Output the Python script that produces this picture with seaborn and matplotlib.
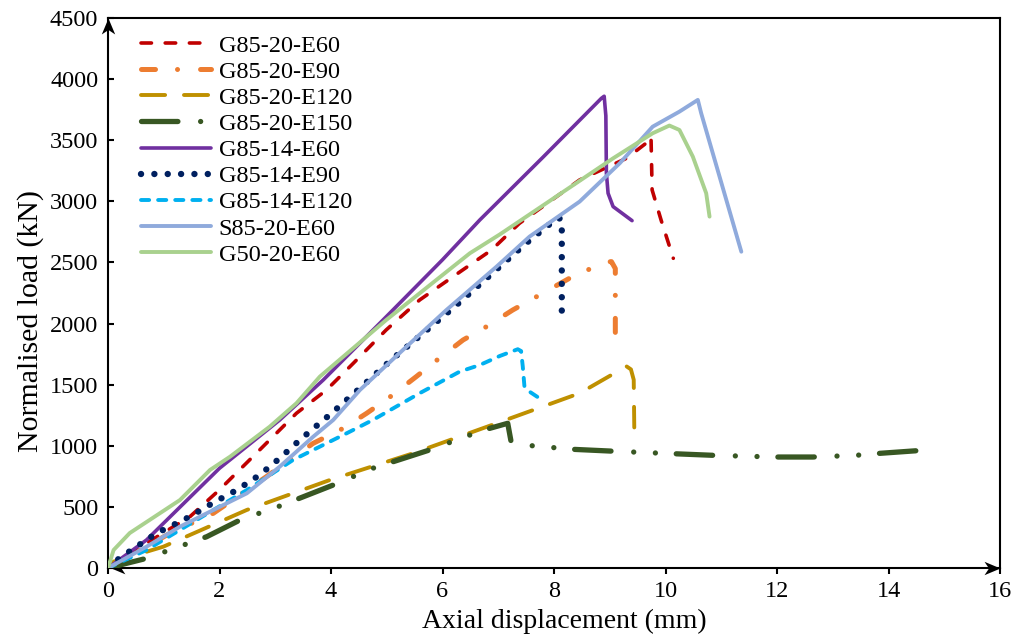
import matplotlib
matplotlib.use("Agg")
import matplotlib.pyplot as plt
import pandas as pd
import seaborn as sns

# ---------------- data ----------------
labels = ["G85-20-E60", "G85-20-E90", "G85-20-E120", "G85-20-E150",
          "G85-14-E60", "G85-14-E90", "G85-14-E120", "S85-20-E60", "G50-20-E60"]

x_g85_20_e60 = [0, 0.21, 1.0, 1.47, 2.0, 2.72, 3.38, 3.92, 4.4, 4.99, 5.59, 6.19, 6.88, 7.38, 8.46, 9.3, 9.65, 9.74, 9.76, 9.92, 10.14]
y_g85_20_e60 = [0, 65, 290, 420, 640, 966, 1266, 1457, 1675, 1948, 2193, 2384, 2602, 2820, 3175, 3352, 3475, 3530, 3093, 2848, 2534]

x_g85_20_e90 = [0, 0.21, 1.11, 1.89, 2.84, 3.68, 4.22, 4.64, 5.08, 5.53, 5.92, 6.37, 6.79, 7.26, 8.28, 8.9, 9.03, 9.1, 9.1]
y_g85_20_e90 = [0, 52, 284, 448, 747, 1020, 1143, 1266, 1407, 1566, 1708, 1866, 1975, 2111, 2371, 2500, 2507, 2450, 1750]

x_g85_20_e120 = [0, 0.1, 0.99, 2.49, 3.98, 5.47, 6.97, 8.46, 9.3, 9.38, 9.43, 9.44]
y_g85_20_e120 = [0, 52, 174, 475, 720, 938, 1184, 1430, 1650, 1625, 1540, 1150]

x_g85_20_e150 = [0, 0.69, 1.77, 2.37, 3.08, 4.04, 4.75, 5.77, 6.49, 6.85, 7.17, 7.23, 7.59, 8.34, 9.0, 9.83, 10.85, 11.98, 12.64, 13.42, 13.84, 14.52]
y_g85_20_e150 = [0, 79, 256, 393, 507, 679, 816, 966, 1088, 1143, 1184, 1034, 1001, 971, 957, 941, 922, 908, 908, 922, 938, 960]

x_g85_14_e60 = [0, 0.69, 2.0, 3.08, 3.86, 5.0, 6.0, 6.67, 7.8, 8.85, 8.9, 8.93, 8.94, 8.97, 9.06, 9.4]
y_g85_14_e60 = [0, 229, 816, 1211, 1538, 2060, 2522, 2848, 3360, 3843, 3860, 3700, 3230, 3066, 2957, 2842]

x_g85_14_e90 = [0, 0.21, 0.87, 1.47, 1.88, 2.31, 2.72, 3.08, 3.44, 3.8, 4.01, 4.55, 5.08, 5.65, 6.22, 6.76, 7.5, 8.07, 8.14, 8.14]
y_g85_14_e90 = [0, 82, 284, 420, 532, 638, 761, 898, 1047, 1186, 1266, 1484, 1702, 1920, 2139, 2357, 2657, 2867, 2850, 2016]

x_g85_14_e120 = [0, 0.69, 1.59, 2.49, 3.32, 4.28, 4.75, 5.59, 6.31, 6.67, 7.03, 7.35, 7.41, 7.44, 7.47, 7.56, 7.83]
y_g85_14_e120 = [0, 147, 393, 638, 884, 1102, 1211, 1430, 1607, 1661, 1735, 1790, 1775, 1648, 1484, 1443, 1361]

x_s85_20_e60 = [0, 0.69, 1.29, 2.01, 2.49, 3.08, 3.68, 4.04, 4.52, 5.29, 6.07, 6.97, 7.56, 8.46, 9.18, 9.77, 10.25, 10.58, 10.64, 11.36]
y_s85_20_e60 = [0, 174, 338, 502, 611, 829, 1074, 1211, 1457, 1784, 2111, 2466, 2711, 2998, 3312, 3611, 3734, 3830, 3721, 2588]

x_g50_20_e60 = [0, 0.1, 0.39, 1.29, 1.83, 2.19, 2.9, 3.38, 3.8, 4.99, 5.89, 6.49, 7.03, 7.86, 9.06, 9.77, 10.07, 10.25, 10.49, 10.73, 10.79]
y_g50_20_e60 = [0, 147, 286, 556, 802, 911, 1156, 1348, 1566, 2029, 2357, 2575, 2730, 2984, 3352, 3557, 3620, 3584, 3366, 3066, 2875]

x_ticks = [0, 2, 4, 6, 8, 10, 12, 14, 16]
y_ticks = [0, 500, 1000, 1500, 2000, 2500, 3000, 3500, 4000, 4500]

xs = [x_g85_20_e60, x_g85_20_e90, x_g85_20_e120, x_g85_20_e150, x_g85_14_e60,
      x_g85_14_e90, x_g85_14_e120, x_s85_20_e60, x_g50_20_e60]
ys = [y_g85_20_e60, y_g85_20_e90, y_g85_20_e120, y_g85_20_e150, y_g85_14_e60,
      y_g85_14_e90, y_g85_14_e120, y_s85_20_e60, y_g50_20_e60]

# ---------------- styles ----------------
colors = ["#C00000", "#ED7D31", "#BF9000", "#385723", "#7030A0",
          "#002060", "#00B0F0", "#8FAADC", "#A9D18E"]
widths = [2.6, 3.6, 2.8, 3.8, 2.6, 4.6, 2.8, 2.8, 2.8]
styles = [(0, (2.9, 3.8)),
          (0, (2.8, 4.4, 0.01, 4.6)),
          (0, (6.2, 4.85)),
          (0, (6.9, 4.3, 0.01, 4.1, 0.01, 3.95)),
          "-",
          (0, (0.01, 2.08)),
          (0, (2.1, 2.3)),
          "-",
          "-"]

plt.rcParams["font.family"] = ["Liberation Serif", "DejaVu Serif"]

fig = plt.figure(figsize=(10.16, 6.35), dpi=100)
ax = fig.add_axes([108 / 1016, 1 - 568 / 635, 892 / 1016, 550 / 635])

for i, lab in enumerate(labels):
    df = pd.DataFrame({"x": xs[i], "y": ys[i]})
    sns.lineplot(data=df, x="x", y="y", ax=ax, sort=False, estimator=None,
                 color=colors[i], linewidth=widths[i], linestyle=styles[i],
                 dash_capstyle="round", solid_capstyle="round",
                 solid_joinstyle="round", dash_joinstyle="round",
                 label=lab, zorder=3 + i)

ax.set_xlim(0, 16)
ax.set_ylim(0, 4500)
ax.set_xticks(x_ticks)
ax.set_yticks(y_ticks)
ax.set_xticklabels([str(v) for v in x_ticks])
ax.set_yticklabels([str(v) for v in y_ticks])

for sp in ax.spines.values():
    sp.set_color("black")
    sp.set_linewidth(1.5)

ax.tick_params(axis="y", direction="in", length=4.5, width=1.5, pad=7,
               labelsize=17.5, colors="black")
ax.tick_params(axis="x", direction="out", length=4.5, width=1.5, pad=5,
               labelsize=17.5, colors="black")

ax.set_xlabel("Axial displacement (mm)", fontsize=20, labelpad=4.5)
ax.set_ylabel("Normalised load (kN)", fontsize=21.5, labelpad=4)
ax.xaxis.label.set_x(0.512)
ax.yaxis.label.set_y(0.45)

# arrow heads on the axes
up = [(0, 0), (-0.42, -1), (0, -0.72), (0.42, -1), (0, 0)]
right = [(0, 0), (-1, 0.42), (-0.72, 0), (-1, -0.42), (0, 0)]
left = [(0, 0), (1, 0.42), (0.72, 0), (1, -0.42), (0, 0)]
ax.plot([0], [1], transform=ax.transAxes, marker=up, ms=23, mew=0,
        color="black", clip_on=False, zorder=20, linestyle="none")
ax.plot([1], [0], transform=ax.transAxes, marker=right, ms=23, mew=0,
        color="black", clip_on=False, zorder=20, linestyle="none")
ax.plot([0.003], [0], transform=ax.transAxes, marker=left, ms=20, mew=0,
        color="black", clip_on=False, zorder=2, linestyle="none")

handles = ax.get_lines()[:len(labels)]
leg = ax.legend(handles, labels, loc="upper left",
                bbox_to_anchor=(0.037, 0.970), frameon=False,
                fontsize=17.5, handlelength=2.9, handletextpad=0.3,
                labelspacing=0.17, borderpad=0, borderaxespad=0)

fig.savefig("out.png", dpi=100, facecolor="white")
